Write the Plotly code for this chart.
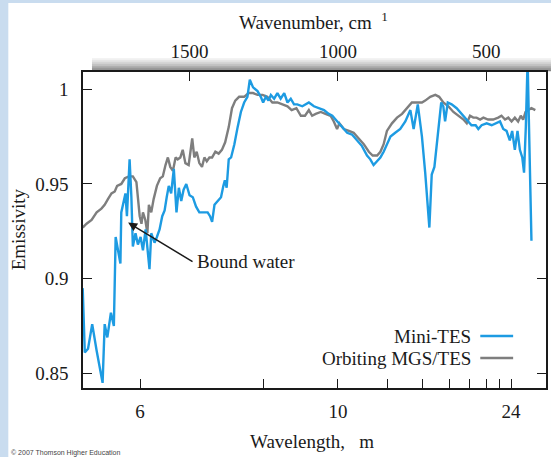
import plotly.graph_objects as go

# ---------------- data ----------------
# Mini-TES spectrum: wavenumber (cm^-1) and emissivity
minites_wn = [1860, 1853, 1842, 1828, 1813, 1793, 1786, 1777, 1765, 1755, 1749, 1741,
              1733, 1730, 1722, 1716, 1711, 1702, 1696, 1691, 1682, 1674, 1665, 1657,
              1648, 1640, 1635, 1629, 1618, 1610, 1601, 1592, 1584, 1577, 1570, 1562,
              1553, 1544, 1536, 1528, 1520, 1511, 1500, 1489, 1478, 1467, 1456, 1439,
              1431, 1424, 1416, 1405, 1394, 1386, 1381, 1375, 1368, 1360, 1349, 1338,
              1327, 1316, 1305, 1297, 1286, 1271, 1260, 1252, 1243, 1234, 1226, 1215,
              1204, 1193, 1181, 1170, 1159, 1148, 1137, 1120, 1098, 1081, 1064, 1047,
              1031, 1019, 1008, 997, 986, 969, 952, 936, 919, 902, 891, 880, 868, 857,
              846, 835, 823, 807, 790, 773, 756, 745, 740, 731, 717, 706, 692, 684,
              675, 664, 652, 645, 639, 630, 617, 600, 583, 566, 550, 536, 527, 516,
              499, 482, 466, 454, 443, 432, 421, 413, 404, 395, 387, 379, 373, 367,
              361, 348]
minites_em = [0.895, 0.861, 0.863, 0.876, 0.862, 0.845, 0.876, 0.869, 0.882, 0.875, 0.922, 0.915,
              0.908, 0.935, 0.940, 0.945, 0.933, 0.963, 0.943, 0.917, 0.924, 0.918, 0.922, 0.915,
              0.926, 0.912, 0.905, 0.924, 0.919, 0.922, 0.926, 0.933, 0.936, 0.943, 0.949, 0.945,
              0.958, 0.935, 0.948, 0.941, 0.947, 0.950, 0.944, 0.943, 0.938, 0.935, 0.935, 0.935,
              0.933, 0.930, 0.939, 0.941, 0.943, 0.949, 0.952, 0.948, 0.963, 0.964, 0.971, 0.980,
              0.988, 0.993, 0.996, 1.005, 1.001, 0.999, 0.996, 0.993, 0.996, 0.994, 0.997, 0.995,
              0.998, 0.995, 0.998, 0.993, 0.995, 0.992, 0.992, 0.991, 0.993, 0.991, 0.990, 0.989,
              0.987, 0.986, 0.984, 0.982, 0.980, 0.977, 0.976, 0.973, 0.970, 0.965, 0.963, 0.960, 0.962, 0.964,
              0.967, 0.971, 0.975, 0.977, 0.979, 0.983, 0.989, 0.979, 0.984, 0.992, 0.975, 0.956, 0.927, 0.955,
              0.959, 0.977, 0.993, 0.991, 0.983, 0.993, 0.992, 0.990, 0.987, 0.984, 0.981, 0.981, 0.979, 0.981,
              0.982, 0.981, 0.982, 0.983, 0.979, 0.978, 0.973, 0.978, 0.968, 0.978, 0.968, 0.964, 0.956, 0.980,
              1.015, 0.920]

# Orbiting MGS/TES spectrum
mgs_wn = [1860, 1847, 1830, 1813, 1797, 1786, 1775, 1763, 1752, 1744, 1730, 1718,
          1704, 1691, 1679, 1674, 1668, 1662, 1657, 1649, 1642, 1637, 1629, 1621,
          1610, 1599, 1590, 1581, 1573, 1565, 1556, 1547, 1540, 1531, 1523, 1514,
          1503, 1491, 1484, 1476, 1467, 1458, 1450, 1442, 1433, 1424, 1413, 1402,
          1391, 1380, 1368, 1357, 1346, 1333, 1316, 1301, 1286, 1271, 1254, 1238,
          1221, 1204, 1187, 1170, 1156, 1140, 1125, 1111, 1098, 1087, 1075, 1058,
          1042, 1025, 1014, 1003, 995, 980, 963, 947, 930, 913, 896, 883, 868, 857,
          846, 835, 818, 801, 784, 768, 751, 734, 717, 706, 689, 672, 659, 645,
          628, 611, 594, 577, 566, 555, 544, 533, 521, 510, 494, 477, 460, 449,
          437, 426, 415, 404, 393, 384, 376, 368, 359, 348, 335]
mgs_em = [0.927, 0.929, 0.931, 0.935, 0.937, 0.939, 0.942, 0.945, 0.946, 0.949, 0.950, 0.953,
          0.954, 0.954, 0.951, 0.943, 0.933, 0.929, 0.935, 0.931, 0.924, 0.939, 0.935, 0.942,
          0.949, 0.953, 0.954, 0.960, 0.964, 0.959, 0.957, 0.964, 0.963, 0.964, 0.968, 0.961,
          0.960, 0.974, 0.964, 0.967, 0.961, 0.959, 0.964, 0.962, 0.964, 0.964, 0.967, 0.966,
          0.968, 0.972, 0.980, 0.990, 0.994, 0.996, 0.996, 0.998, 0.998, 0.997, 0.997, 0.996,
          0.993, 0.993, 0.992, 0.991, 0.989, 0.990, 0.986, 0.986, 0.989, 0.986, 0.987, 0.988,
          0.987, 0.986, 0.983, 0.979, 0.982, 0.979, 0.978, 0.977, 0.974, 0.971, 0.967, 0.965, 0.965, 0.967,
          0.971, 0.978, 0.982, 0.985, 0.987, 0.990, 0.993, 0.993, 0.993, 0.994, 0.996, 0.997, 0.996, 0.993,
          0.991, 0.988, 0.986, 0.984, 0.982, 0.986, 0.985, 0.985, 0.984, 0.985, 0.984, 0.984, 0.985, 0.986,
          0.984, 0.985, 0.983, 0.985, 0.983, 0.986, 0.984, 0.988, 0.989, 0.990, 0.989]

# axis ticks
wavelength_labeled = [6, 10, 24]
wavelength_minor = [8, 12, 14, 16, 18, 20, 22]
wavenumber_ticks = [1500, 1000, 500]
emissivity_ticks = [0.85, 0.9, 0.95, 1]
emissivity_labels = ["0.85", "0.9", "0.95", "1"]

x_range = [1859, 299]
y_range = [0.8423, 1.0091]

annot_tip = (1707, 0.9296)
annot_tail = (1490, 0.9090)

# ---------------- layout helpers ----------------
W, H = 551, 457
L, R, T, B = 83, 3, 72, 69
PW, PH = W - L - R, H - T - B


def px(x):
    return (x - L) / PW


def py(y):
    return (H - B - y) / PH


SERIF = "Liberation Serif"
BLUE = "#1d9be2"
GRAY = "#7e7e7e"
INK = "#1a1a1a"

fig = go.Figure()
fig.add_trace(go.Scatter(x=mgs_wn, y=mgs_em, mode="lines", name="Orbiting MGS/TES",
                         line=dict(color=GRAY, width=2.4), showlegend=False))
fig.add_trace(go.Scatter(x=minites_wn, y=minites_em, mode="lines", name="Mini-TES",
                         line=dict(color=BLUE, width=2.4), showlegend=False))
# invisible trace to anchor the top (wavenumber) axis
fig.add_trace(go.Scatter(x=mgs_wn, y=mgs_em, mode="lines", xaxis="x2", yaxis="y",
                         line=dict(width=0), opacity=0, hoverinfo="skip", showlegend=False))

tickfont = dict(family=SERIF, size=19, color=INK)

fig.update_layout(
    width=W, height=H,
    margin=dict(l=L, r=R, t=T, b=B, pad=0),
    paper_bgcolor="#c9dcef",
    plot_bgcolor="white",
    showlegend=False,
    xaxis=dict(range=x_range, tickvals=[1e4 / w for w in wavelength_labeled],
               ticktext=[str(w) for w in wavelength_labeled],
               ticks="inside", ticklen=9, tickwidth=1.3, tickcolor=INK,
               minor=dict(tickvals=[1e4 / w for w in wavelength_minor], ticks="inside",
                          ticklen=9, tickwidth=1.3, tickcolor=INK, showgrid=False),
               showline=True, linecolor=INK, linewidth=1.6, mirror=True,
               showgrid=False, zeroline=False, tickfont=tickfont, ticklabelstandoff=5),
    xaxis2=dict(range=x_range, overlaying="x", side="top", tickvals=wavenumber_ticks,
                ticks="inside", ticklen=9, tickwidth=1.3, tickcolor=INK,
                showline=False, showgrid=False, zeroline=False, tickfont=tickfont,
                ticklabelstandoff=9),
    yaxis=dict(range=y_range, tickvals=emissivity_ticks, ticktext=emissivity_labels,
               ticks="inside", ticklen=9, tickwidth=1.3, tickcolor=INK,
               showline=True, linecolor=INK, linewidth=1.6, mirror="ticks",
               showgrid=False, zeroline=False, tickfont=tickfont, ticklabelstandoff=9),
)

shapes = []
# white page over the light-blue frame
shapes.append(dict(type="rect", xref="paper", yref="paper", x0=px(8), x1=px(W + 2), y0=py(3), y1=py(H + 2),
                   fillcolor="white", line=dict(width=0), layer="below"))
# gray shaded bar above the plot frame
bar_cols = ["#f3f3f3", "#e5e5e5", "#d5d5d5", "#c3c3c3", "#afafaf", "#999999", "#838383"]
y0 = 58.0
step = 13.0 / len(bar_cols)
for i, c in enumerate(bar_cols):
    shapes.append(dict(type="rect", xref="paper", yref="paper", x0=px(92), x1=px(W + 2),
                       y0=py(y0 + (i + 1) * step + 0.3), y1=py(y0 + i * step),
                       fillcolor=c, line=dict(width=0), layer="below"))
# legend samples
shapes.append(dict(type="line", xref="paper", yref="paper", x0=px(482), x1=px(515), y0=py(336), y1=py(336),
                   line=dict(color=BLUE, width=2.6)))
shapes.append(dict(type="line", xref="paper", yref="paper", x0=px(482), x1=px(515), y0=py(358), y1=py(358),
                   line=dict(color=GRAY, width=2.6)))
fig.update_layout(shapes=shapes)

textfont = dict(family=SERIF, size=19, color=INK)
ann = [
    dict(text="Wavenumber, cm  <sup>1</sup>", xref="paper", yref="paper", x=px(238), y=py(21),
         xanchor="left", yanchor="middle", showarrow=False, font=textfont),
    dict(text="Wavelength,   m", xref="paper", yref="paper", x=px(249), y=py(441),
         xanchor="left", yanchor="middle", showarrow=False, font=textfont),
    dict(text="Emissivity", xref="paper", yref="paper", x=px(18), y=py(229), textangle=-90,
         xanchor="center", yanchor="middle", showarrow=False, font=textfont),
    dict(text="Mini-TES", xref="paper", yref="paper", x=px(475), y=py(336),
         xanchor="right", yanchor="middle", showarrow=False, font=textfont),
    dict(text="Orbiting MGS/TES", xref="paper", yref="paper", x=px(475), y=py(358),
         xanchor="right", yanchor="middle", showarrow=False, font=textfont),
    dict(text="Bound water", x=annot_tip[0], y=annot_tip[1], xref="x", yref="y",
         ax=annot_tail[0], ay=annot_tail[1], axref="x", ayref="y",
         xanchor="left", yanchor="middle", font=textfont, borderpad=3,
         showarrow=True, arrowhead=2, arrowsize=1.2, arrowwidth=1.5, arrowcolor=INK),
    dict(text="© 2007 Thomson Higher Education", xref="paper", yref="paper", x=px(9), y=py(453),
         xanchor="left", yanchor="middle", showarrow=False,
         font=dict(family="Liberation Sans", size=7, color="#444444")),
]
fig.update_layout(annotations=ann)

fig.write_html("out.html")
